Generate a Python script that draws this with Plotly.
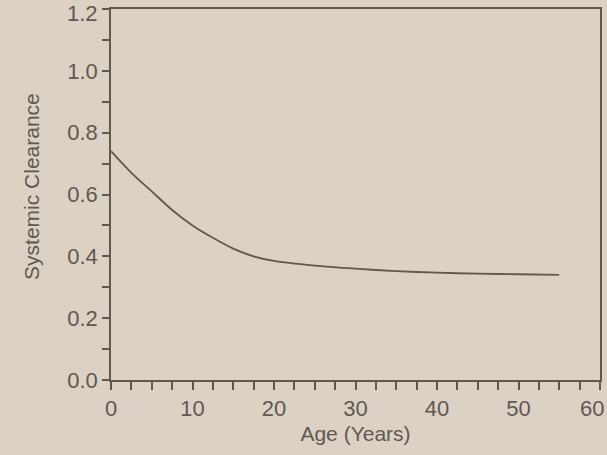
import plotly.graph_objects as go

age = [0, 2.5, 5, 7.5, 10, 12.5, 15, 17.5, 20, 25, 30, 35, 40, 45, 50, 55]
clearance = [0.74, 0.67, 0.61, 0.55, 0.50, 0.46, 0.425, 0.40, 0.385, 0.37, 0.36, 0.352, 0.347, 0.344, 0.342, 0.34]
x_ticks = [0, 10, 20, 30, 40, 50, 60]
y_ticks = [0.0, 0.2, 0.4, 0.6, 0.8, 1.0, 1.2]

ink = "#62584f"
bg = "#dbd1c5"
font = "Liberation Sans, Arial, sans-serif"

# edge labels (last tick on each axis) are placed as annotations so they stay inside the page
x_text = [str(v) for v in x_ticks[:-1]] + [""]
y_text = [f"{v:.1f}" for v in y_ticks[:-1]] + [""]

fig = go.Figure()
fig.add_trace(go.Scatter(x=age, y=clearance, mode="lines",
                         line=dict(color=ink, width=1.8, shape="spline", smoothing=0.8),
                         showlegend=False, hoverinfo="skip"))

fig.update_layout(
    width=607, height=455,
    paper_bgcolor=bg, plot_bgcolor=bg,
    margin=dict(l=111, r=7, t=9, b=75, autoexpand=False),
    font=dict(family=font, color=ink, size=21),
    xaxis=dict(range=[0, 60], tickvals=x_ticks, ticktext=x_text,
               ticks="outside", ticklen=8, tickwidth=1.5,
               tickcolor=ink, showline=True, linecolor=ink, linewidth=1.6, mirror=True,
               showgrid=False, zeroline=False,
               minor=dict(ticks="outside", tick0=0, dtick=2.5, ticklen=8, tickwidth=1.5, tickcolor=ink),
               title=dict(text="Age (Years)", font=dict(size=21, family=font, color=ink), standoff=6),
               tickfont=dict(size=22, family=font, color=ink)),
    yaxis=dict(range=[0, 1.2], tickvals=y_ticks, ticktext=y_text,
               ticks="outside", ticklen=7,
               tickwidth=1.5, tickcolor=ink, showline=True, linecolor=ink, linewidth=1.6, mirror=True,
               showgrid=False, zeroline=False,
               minor=dict(ticks="outside", tick0=0, dtick=0.1, ticklen=7, tickwidth=1.5, tickcolor=ink),
               tickfont=dict(size=22, family=font, color=ink)),
    annotations=[
        dict(text="Systemic Clearance", textangle=-90, xref="paper", yref="paper",
             x=-0.1616, y=0.523, xanchor="center", yanchor="middle", showarrow=False,
             font=dict(size=21, family=font, color=ink)),
        dict(text=str(x_ticks[-1]), xref="paper", yref="paper", x=1.0123, y=-0.0775,
             xanchor="right", yanchor="middle", showarrow=False,
             font=dict(size=22, family=font, color=ink)),
        dict(text=f"{y_ticks[-1]:.1f}", xref="paper", yref="paper", x=-0.0225, y=0.989,
             xanchor="right", yanchor="middle", showarrow=False,
             font=dict(size=22, family=font, color=ink)),
    ],
)

fig.write_html("out.html", config={"displayModeBar": False},
               post_script="document.body.style.margin='0';document.body.style.padding='0';")
